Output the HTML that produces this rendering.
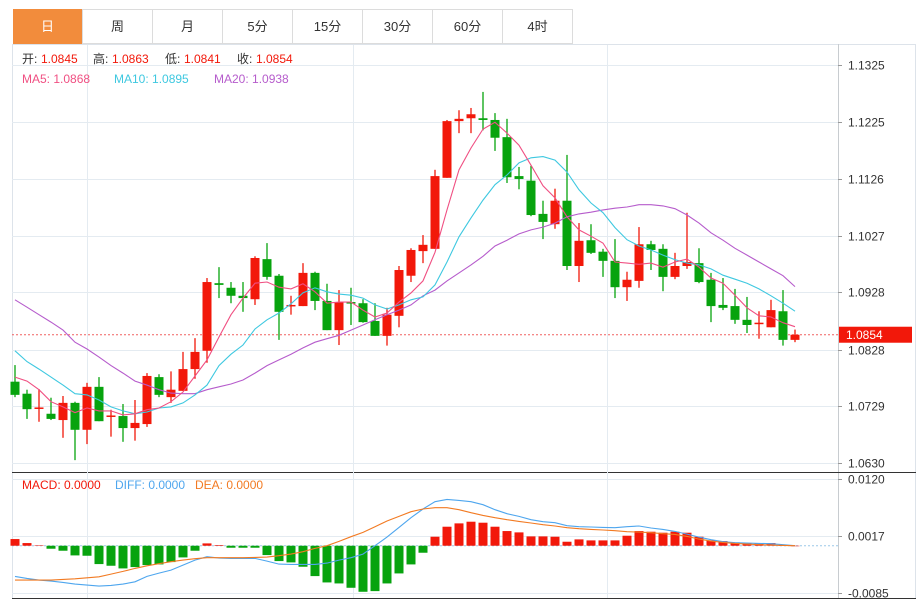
<!DOCTYPE html>
<html><head><meta charset="utf-8"><style>
body{margin:0;background:#fff;font-family:"Liberation Sans","Noto Sans CJK SC",sans-serif;}
#wrap{position:relative;width:922px;height:604px;overflow:hidden;}
.tab{position:absolute;top:9px;height:35px;width:69px;border:1px solid #dcdcdc;box-sizing:border-box;font-size:13px;color:#333;text-align:center;line-height:34px;background:#fff;}
.tab.on{background:#f28c3c;color:#fff;border-color:#f28c3c;}
svg{position:absolute;left:0;top:0;}
</style></head><body>
<div id="wrap">
<div class="tab on" style="left:13px">日</div>
<div class="tab" style="left:82px;width:71px">周</div>
<div class="tab" style="left:152px;width:71px">月</div>
<div class="tab" style="left:222px;width:71px">5分</div>
<div class="tab" style="left:292px;width:71px">15分</div>
<div class="tab" style="left:362px;width:71px">30分</div>
<div class="tab" style="left:432px;width:71px">60分</div>
<div class="tab" style="left:502px;width:71px">4时</div>
<svg id="c" width="922" height="604"></svg>
</div>
<script>
const opens=[1.0772,1.0751,1.0725,1.0716,1.0705,1.0735,1.0688,1.0763,1.0712,1.0712,1.0691,1.0698,1.0780,1.0745,1.0756,1.0794,1.0826,1.0944,1.0936,1.0922,1.0916,1.0986,1.0957,1.0905,1.0904,1.0962,1.0913,1.0862,1.0911,1.0909,1.0878,1.0852,1.0887,1.0957,1.1000,1.1004,1.1128,1.1227,1.1232,1.1232,1.1229,1.1199,1.1131,1.1123,1.1065,1.1047,1.1088,1.0974,1.1019,1.0999,1.0983,1.0937,1.0948,1.1012,1.1004,1.0955,1.0974,1.0979,1.0950,1.0906,1.0904,1.0880,1.0873,1.0867,1.0895,1.0845];
const highs=[1.0801,1.0758,1.0759,1.0744,1.0747,1.0737,1.0770,1.0780,1.0723,1.0733,1.0740,1.0787,1.0785,1.0790,1.0824,1.0848,1.0953,1.0972,1.0946,1.0946,1.0991,1.1014,1.0960,1.0922,1.0979,1.0964,1.0943,1.0932,1.0936,1.0916,1.0909,1.0901,1.0974,1.1005,1.1028,1.1142,1.1229,1.1246,1.1250,1.1278,1.1241,1.1231,1.1147,1.1149,1.1088,1.1109,1.1168,1.1049,1.1047,1.1004,1.1021,1.0964,1.1042,1.1018,1.1012,1.0997,1.1067,1.1005,1.0962,1.0953,1.0934,1.0920,1.0895,1.0915,1.0932,1.0863];
const lows=[1.0745,1.0707,1.0702,1.0705,1.0674,1.0635,1.0663,1.0703,1.0676,1.0667,1.0669,1.0693,1.0745,1.0735,1.0756,1.0777,1.0805,1.0918,1.0909,1.0894,1.0906,1.0950,1.0845,1.0889,1.0904,1.0897,1.0862,1.0836,1.0871,1.0875,1.0852,1.0835,1.0867,1.0946,1.0979,1.1004,1.1128,1.1206,1.1206,1.1211,1.1175,1.1119,1.1108,1.1061,1.1021,1.1039,1.0967,1.0946,1.0995,1.0955,1.0918,1.0913,1.0936,1.0967,1.0930,1.0951,1.0969,1.0944,1.0876,1.0897,1.0873,1.0857,1.0847,1.0867,1.0835,1.0841];
const closes=[1.0749,1.0724,1.0727,1.0707,1.0735,1.0688,1.0763,1.0703,1.0713,1.0691,1.0700,1.0782,1.0749,1.0758,1.0794,1.0824,1.0946,1.0941,1.0922,1.0918,1.0988,1.0955,1.0894,1.0906,1.0962,1.0913,1.0862,1.0911,1.0909,1.0876,1.0852,1.0889,1.0967,1.1002,1.1011,1.1131,1.1227,1.1231,1.1239,1.1229,1.1198,1.1129,1.1126,1.1063,1.1051,1.1088,1.0974,1.1018,1.0997,1.0983,1.0937,1.0950,1.1012,1.1002,1.0955,1.0974,1.0981,1.0946,1.0904,1.0901,1.0880,1.0871,1.0875,1.0897,1.0845,1.0854];
const ma5=[1.0780,1.0773,1.0758,1.0737,1.0728,1.0718,1.0726,1.0721,1.0721,1.0714,1.0716,1.0723,1.0726,1.0737,1.0754,1.0782,1.0810,1.0850,1.0889,1.0918,1.0944,1.0946,1.0937,1.0934,1.0943,1.0929,1.0909,1.0911,1.0911,1.0897,1.0885,1.0892,1.0911,1.0927,1.0948,1.0998,1.1072,1.1142,1.1180,1.1213,1.1225,1.1206,1.1185,1.1150,1.1114,1.1093,1.1060,1.1037,1.1026,1.1014,1.0981,1.0979,1.0977,1.0979,1.0972,1.0981,1.0986,1.0972,1.0953,1.0944,1.0923,1.0901,1.0887,1.0885,1.0875,1.0868];
const ma10=[1.0826,1.0807,1.0794,1.0780,1.0766,1.0751,1.0749,1.0740,1.0728,1.0721,1.0716,1.0719,1.0726,1.0728,1.0735,1.0749,1.0766,1.0800,1.0820,1.0836,1.0864,1.0880,1.0892,1.0908,1.0927,1.0936,1.0929,1.0925,1.0923,1.0918,1.0906,1.0899,1.0906,1.0915,1.0920,1.0941,1.0981,1.1025,1.1058,1.1089,1.1116,1.1133,1.1154,1.1163,1.1165,1.1159,1.1138,1.1107,1.1084,1.1067,1.1041,1.1020,1.1009,1.1002,1.0993,1.0985,1.0979,1.0976,1.0969,1.0958,1.0951,1.0944,1.0934,1.0922,1.0909,1.0895];
const ma20=[1.0915,1.0902,1.0889,1.0876,1.0862,1.0841,1.0829,1.0815,1.0800,1.0787,1.0773,1.0766,1.0758,1.0752,1.0751,1.0751,1.0758,1.0763,1.0768,1.0775,1.0787,1.0800,1.0810,1.0820,1.0831,1.0841,1.0847,1.0853,1.0862,1.0871,1.0880,1.0889,1.0897,1.0906,1.0922,1.0932,1.0948,1.0962,1.0976,1.0991,1.1009,1.1019,1.1030,1.1037,1.1042,1.1049,1.1060,1.1065,1.1068,1.1072,1.1075,1.1077,1.1081,1.1081,1.1079,1.1074,1.1063,1.1049,1.1032,1.1019,1.1005,1.0993,1.0981,1.0969,1.0957,1.0938];
// MACD values in units of 0.0001
const macdHist=[12,4.8,0.6,-5.4,-9,-17.4,-18,-33,-36,-40.8,-38.4,-34.8,-33.6,-29.4,-21,-9,4.2,1.2,-3.6,-3.6,-3.6,-16.8,-27.6,-30,-37.8,-54.6,-66,-67.8,-75.6,-82.8,-81.6,-67.8,-49.8,-33.6,-12.6,16.2,34.2,40.2,43.2,41.4,34.2,26.4,24,16.8,16.8,16.2,7.2,11.4,9.6,9.6,9.6,18,26.4,25.2,23.4,25.2,23.4,16.2,9.6,8.4,6,4.8,4.8,4.8,0.6,0];
const diff=[-55.2,-58.8,-61.8,-63.6,-66,-69,-70.8,-72.6,-71.4,-69,-64.8,-55.2,-49.2,-43.8,-34.8,-25.8,-19.8,-22.2,-22.8,-22.8,-22.8,-27.6,-33,-33.6,-33.6,-33.6,-31.2,-25.8,-21.6,-15,0,15.6,33,50.4,66,79.2,83.4,81.6,79.2,73.8,64.8,57.6,52.8,46.8,43.2,41.4,36,34.2,33.6,33,32.4,34.2,35.4,31.8,29.4,25.8,21,15.6,10.8,7.2,5.4,4.8,4.2,3.6,1.8,0];
const dea=[-61.8,-61.8,-61.8,-61.8,-60.6,-59.4,-57.6,-55.8,-51,-46.2,-40.8,-36,-32.4,-28.8,-25.8,-23.4,-21.6,-21.6,-21.6,-21.6,-21,-20.4,-18,-15,-10.8,-4.8,0,7.8,16.2,24,34.2,44.4,52.8,61.2,66,68.4,68.4,64.8,59.4,54.6,50.4,46.8,43.8,40.8,37.8,35.4,32.4,30.6,29.4,28.2,27,25.2,24.6,23.4,21.6,20.4,16.8,12,8.4,6,4.2,3,1.8,1.2,0.6,0];
const priceTicks=["1.1325","1.1225","1.1126","1.1027","1.0928","1.0828","1.0729","1.0630"];
const macdTicks=["0.0120","0.0017","-0.0085"];
const lastPrice="1.0854";

const NS="http://www.w3.org/2000/svg";
const svg=document.getElementById('c');
function mk(tag,attrs,parent){const e=document.createElementNS(NS,tag);for(const k in attrs)e.setAttribute(k,attrs[k]);(parent||svg).appendChild(e);return e;}
const PL=12,PR=838,PT=45,PB=472,MT=473,MB=598;
const pTop=1.1325,pBot=1.0630,yTop=65,yBot=463;
function yP(p){return yTop+(pTop-p)*(yBot-yTop)/(pTop-pBot);}
const mTop=0.0120,mBot=-0.0085,myTop=479,myBot=593;
function yM(v){return myTop+(mTop-v*1e-4)*(myBot-myTop)/(mTop-mBot);}
function xI(i){return 15+12*i;}
const RED="#f2180a",GREEN="#07a30e";

// frame
const f1=mk('rect',{x:12.5,y:44.5,width:903,height:554,fill:'none',stroke:'#dde3ea'});


const ax=mk('line',{x1:838.5,y1:44,x2:838.5,y2:599,stroke:'#c8ccd0'});


const sep=mk('line',{x1:12,y1:472.5,x2:916,y2:472.5,stroke:'#333'});


const sep2=mk('line',{x1:12,y1:598.5,x2:916,y2:598.5,stroke:'#333'});


// vertical grid
[87,353,607].forEach(x=>{
  const g=mk('line',{x1:x+.5,y1:45,x2:x+.5,y2:598,stroke:'#e4ebf1'});
  
  
});
// price ticks
priceTicks.forEach(t=>{
  const y=Math.round(yP(parseFloat(t)))+.5;
  const g=mk('line',{x1:12,y1:y,x2:838,y2:y,stroke:'#e4ebf1'});
  
  
  const tk=mk('line',{x1:838,y1:y,x2:842,y2:y,stroke:'#999'});
  
  
  const tx=mk('text',{x:848,y:y+4,'font-size':12,fill:'#333'});
  tx.textContent=t;
  
  
});
macdTicks.forEach(t=>{
  const y=Math.round(yM(parseFloat(t)*1e4))+.5;
  const g=mk('line',{x1:12,y1:y,x2:838,y2:y,stroke:'#e4ebf1'});
  
  
  const tk=mk('line',{x1:838,y1:y,x2:842,y2:y,stroke:'#999'});
  
  
  const tx=mk('text',{x:848,y:y+4,'font-size':12,fill:'#333'});
  tx.textContent=t;
  
  
});
// last price line
const ly=yP(parseFloat(lastPrice));
const ll=mk('line',{x1:12,y1:ly,x2:838,y2:ly,stroke:'#f06060','stroke-dasharray':'2,2'});


const lb=mk('rect',{x:839,y:ly-8,width:73,height:16,fill:'#f2180a'});


const lt=mk('text',{x:846,y:ly+4.5,'font-size':12,fill:'#fff'});
lt.textContent=lastPrice;


// candles
opens.forEach((o,i)=>{
  const c=closes[i],up=c>=o,col=up?RED:GREEN,x=xI(i);
  const g=mk('g',{});
  
  
  mk('line',{x1:x,y1:yP(highs[i]),x2:x,y2:yP(lows[i]),stroke:col,'stroke-width':1.3},g);
  const t=Math.min(yP(o),yP(c)),h=Math.max(1.5,Math.abs(yP(o)-yP(c)));
  mk('rect',{x:x-4.5,y:t,width:9,height:h,fill:col},g);
});
function line(arr,fn,col,name){
  const p=mk('polyline',{points:arr.map((v,i)=>xI(i)+','+fn(v).toFixed(1)).join(' '),fill:'none',stroke:col,'stroke-width':1.1});
  
  
}
line(ma20,yP,'#b65ccc','ma20-line');
line(ma10,yP,'#3ec8e0','ma10-line');
line(ma5,yP,'#f04f82','ma5-line');
// macd
const z=yM(0);
const zl=mk('line',{x1:12,y1:z,x2:838,y2:z,stroke:'#9cc8e8','stroke-dasharray':'2,2'});


macdHist.forEach((v,i)=>{
  const y=yM(v);
  const r=mk('rect',{x:xI(i)-4.5,y:Math.min(y,z),width:9,height:Math.max(0.5,Math.abs(y-z)),fill:v>=0?RED:GREEN});
  
  
});
line(diff,yM,'#4ea6ee','diff-line');
line(dea,yM,'#f27a22','dea-line');
// legends
function txt(x,y,s,col,name){const t=mk('text',{x:x,y:y,'font-size':12,fill:col});t.textContent=s;return t;}
txt(22,63,'开:','#333','open-label');txt(41,63,'1.0845','#f2180a','open-value');
txt(93,63,'高:','#333','high-label');txt(112,63,'1.0863','#f2180a','high-value');
txt(165,63,'低:','#333','low-label');txt(184,63,'1.0841','#f2180a','low-value');
txt(237,63,'收:','#333','close-label');txt(256,63,'1.0854','#f2180a','close-value');
txt(22,83,'MA5: 1.0868','#f04f82','ma5-legend');
txt(114,83,'MA10: 1.0895','#3ec8e0','ma10-legend');
txt(214,83,'MA20: 1.0938','#b65ccc','ma20-legend');
txt(22,489,'MACD: 0.0000','#f2180a','macd-legend');
txt(115,489,'DIFF: 0.0000','#4ea6ee','diff-legend');
txt(195,489,'DEA: 0.0000','#f27a22','dea-legend');
</script>
</body></html>
